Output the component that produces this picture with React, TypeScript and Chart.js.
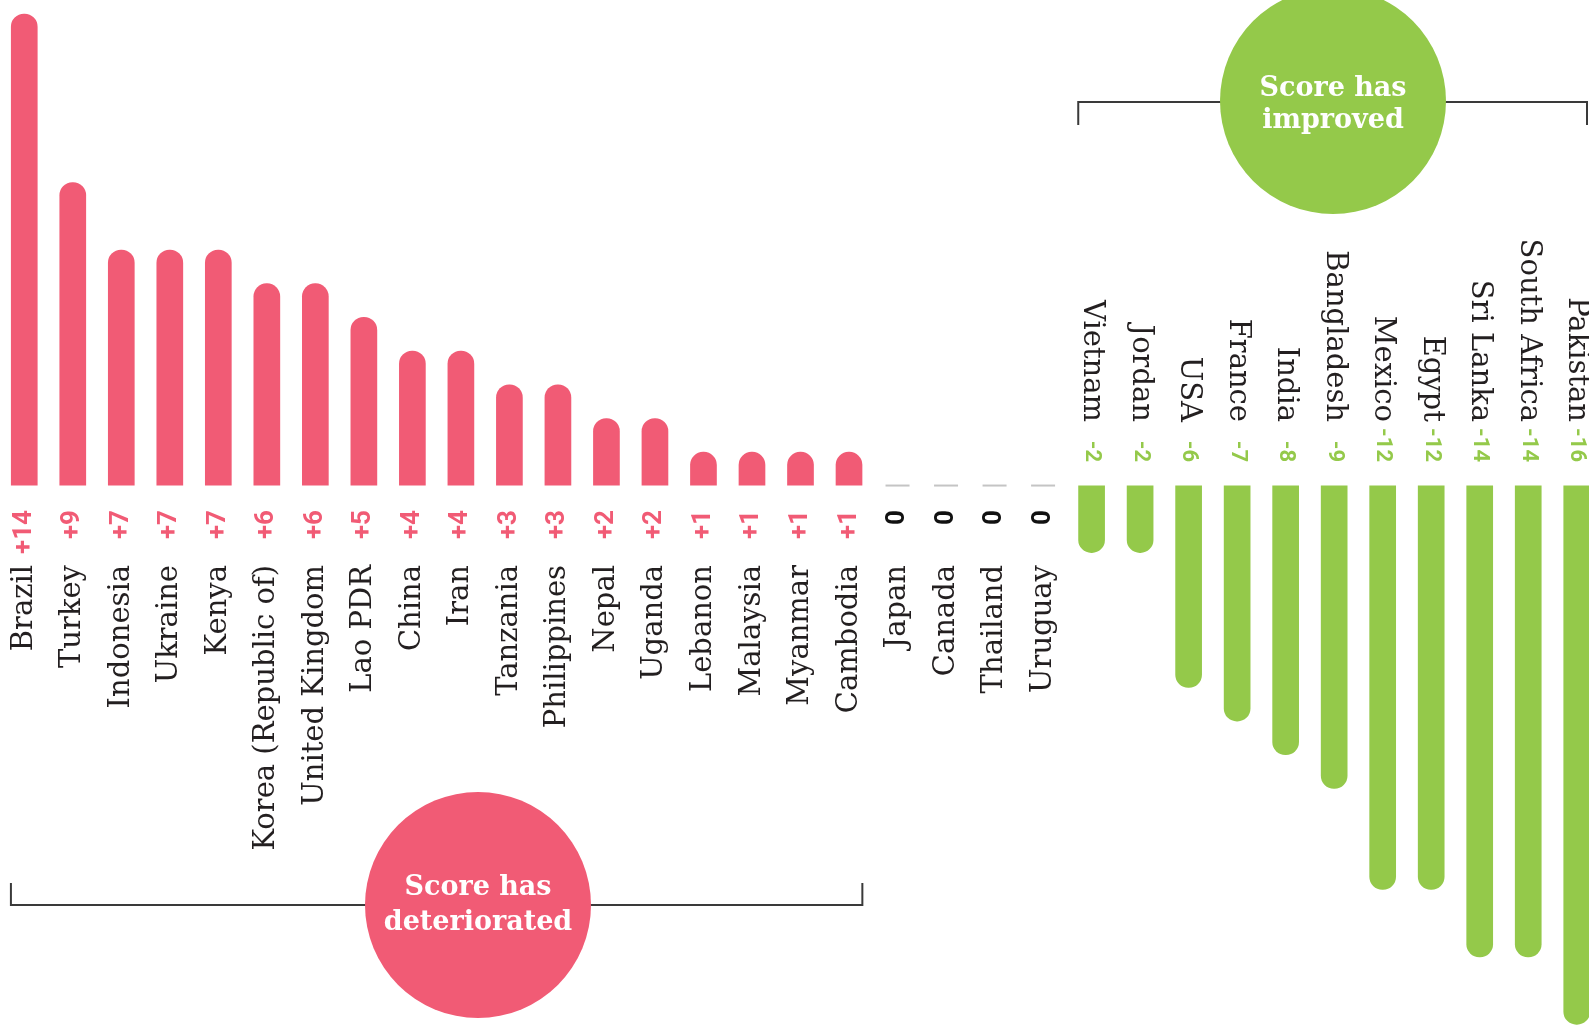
import React, { useEffect, useRef } from 'react';
import { Chart, registerables } from 'chart.js';

Chart.register(...registerables);

const countries = [
  'Brazil', 'Turkey', 'Indonesia', 'Ukraine', 'Kenya', 'Korea (Republic of)', 'United Kingdom',
  'Lao PDR', 'China', 'Iran', 'Tanzania', 'Philippines', 'Nepal', 'Uganda', 'Lebanon', 'Malaysia',
  'Myanmar', 'Cambodia', 'Japan', 'Canada', 'Thailand', 'Uruguay', 'Vietnam', 'Jordan', 'USA',
  'France', 'India', 'Bangladesh', 'Mexico', 'Egypt', 'Sri Lanka', 'South Africa', 'Pakistan',
];
const scoreChange = [
  14, 9, 7, 7, 7, 6, 6, 5, 4, 4, 3, 3, 2, 2, 1, 1, 1, 1, 0, 0, 0, 0,
  -2, -2, -6, -7, -8, -9, -12, -12, -14, -14, -16,
];
const valueLabels = scoreChange.map((v) => (v > 0 ? '+' + v : String(v)));
const deterioratedTitle = ['Score has', 'deteriorated'];
const improvedTitle = ['Score has', 'improved'];

const PINK = '#F15B75';
const GREEN = '#94C94A';
const INK = '#231F20';
const NAME_FONT = '29px "DejaVu Serif"';
const VALUE_FONT = 'bold 26px Roboto';
const NEG_VALUE_FONT = 'bold 22px Roboto';
const TITLE_FONT = 'bold 27px "DejaVu Serif"';

const labelPlugin = {
  id: 'rotatedLabels',
  afterDatasetsDraw(chart: any) {
    const ctx = chart.ctx;
    const xs = chart.scales.x;
    const ys = chart.scales.y;
    const zeroY = ys.getPixelForValue(0);
    ctx.save();
    countries.forEach((name, i) => {
      const v = scoreChange[i];
      const cx = xs.getPixelForValue(i);
      ctx.textBaseline = 'middle';
      ctx.textAlign = 'right';
      if (v >= 0) {
        if (v === 0) {
          ctx.strokeStyle = '#c4c4c4';
          ctx.lineWidth = 2;
          ctx.beginPath();
          ctx.moveTo(cx - 12, zeroY);
          ctx.lineTo(cx + 12, zeroY);
          ctx.stroke();
        }
        ctx.save();
        ctx.translate(cx, 510);
        ctx.rotate(-Math.PI / 2);
        ctx.font = VALUE_FONT;
        ctx.fillStyle = v > 0 ? PINK : '#111';
        ctx.fillText(valueLabels[i], 0, 0);
        ctx.restore();
        ctx.save();
        ctx.translate(cx, 565);
        ctx.rotate(-Math.PI / 2);
        ctx.font = NAME_FONT;
        ctx.fillStyle = INK;
        ctx.fillText(name, 0, 0);
        ctx.restore();
      } else {
        ctx.save();
        ctx.translate(cx, 462);
        ctx.rotate(Math.PI / 2);
        ctx.font = NEG_VALUE_FONT;
        ctx.fillStyle = GREEN;
        ctx.fillText(valueLabels[i], 0, 0);
        ctx.restore();
        ctx.save();
        ctx.translate(cx, 422);
        ctx.rotate(Math.PI / 2);
        ctx.font = NAME_FONT;
        ctx.fillStyle = INK;
        ctx.fillText(name, 0, 0);
        ctx.restore();
      }
    });
    ctx.restore();
  },
};

const groupPlugin = {
  id: 'groupBrackets',
  afterDraw(chart: any) {
    const ctx = chart.ctx;
    const xs = chart.scales.x;
    const meta = chart.getDatasetMeta(0);
    const half = (meta.data[0]?.width || 26) / 2;
    const firstPos = scoreChange.findIndex((v) => v > 0);
    const lastPos = scoreChange.length - 1 - [...scoreChange].reverse().findIndex((v) => v > 0);
    const firstNeg = scoreChange.findIndex((v) => v < 0);
    const lastNeg = scoreChange.length - 1;

    const drawBracket = (x1: number, x2: number, y: number, tick: number) => {
      ctx.save();
      ctx.strokeStyle = '#3a3a3a';
      ctx.lineWidth = 2;
      ctx.beginPath();
      ctx.moveTo(x1, y + tick);
      ctx.lineTo(x1, y);
      ctx.lineTo(x2, y);
      ctx.lineTo(x2, y + tick);
      ctx.stroke();
      ctx.restore();
    };
    const drawBubble = (cx: number, cy: number, color: string, lines: string[], b1: number, b2: number) => {
      ctx.save();
      ctx.fillStyle = color;
      ctx.beginPath();
      ctx.arc(cx, cy, 113, 0, Math.PI * 2);
      ctx.fill();
      ctx.fillStyle = '#ffffff';
      ctx.font = TITLE_FONT;
      ctx.textAlign = 'center';
      ctx.textBaseline = 'alphabetic';
      ctx.fillText(lines[0], cx, b1);
      ctx.fillText(lines[1], cx, b2);
      ctx.restore();
    };

    drawBracket(xs.getPixelForValue(firstPos) - half, xs.getPixelForValue(lastPos) + half, 905, -22);
    drawBubble(478, 905, PINK, deterioratedTitle, 895, 930);

    drawBracket(xs.getPixelForValue(firstNeg) - half, Math.min(xs.getPixelForValue(lastNeg) + half, 1587), 102, 23);
    drawBubble(1333, 101, GREEN, improvedTitle, 96, 128);
  },
};

export default function App() {
  const canvasRef = useRef<HTMLCanvasElement | null>(null);

  useEffect(() => {
    const canvas = canvasRef.current;
    if (!canvas) return;
    const chart = new Chart(canvas, {
      type: 'bar',
      data: {
        labels: countries,
        datasets: [
          {
            data: scoreChange,
            backgroundColor: scoreChange.map((v) => (v > 0 ? PINK : GREEN)),
            borderWidth: 0,
            borderRadius: 13,
            borderSkipped: 'start',
            barPercentage: 0.55,
            categoryPercentage: 1,
          },
        ],
      },
      options: {
        animation: false,
        responsive: false,
        devicePixelRatio: 1,
        events: [],
        layout: { padding: 0 },
        plugins: { legend: { display: false }, tooltip: { enabled: false }, title: { display: false } },
        scales: {
          x: { type: 'category', display: false, offset: true, grid: { display: false } },
          y: { type: 'linear', display: false, min: -16.04, max: 14.41, grid: { display: false } },
        },
      },
      plugins: [labelPlugin, groupPlugin],
    });
    return () => chart.destroy();
  }, []);

  return (
    <div
      style={{
        position: 'absolute',
        left: 0,
        top: 0,
        width: 1589,
        height: 1026,
        overflow: 'hidden',
        background: '#ffffff',
      }}
    >
      <canvas ref={canvasRef} width={1601} height={1026} style={{ display: 'block' }} />
    </div>
  );
}
